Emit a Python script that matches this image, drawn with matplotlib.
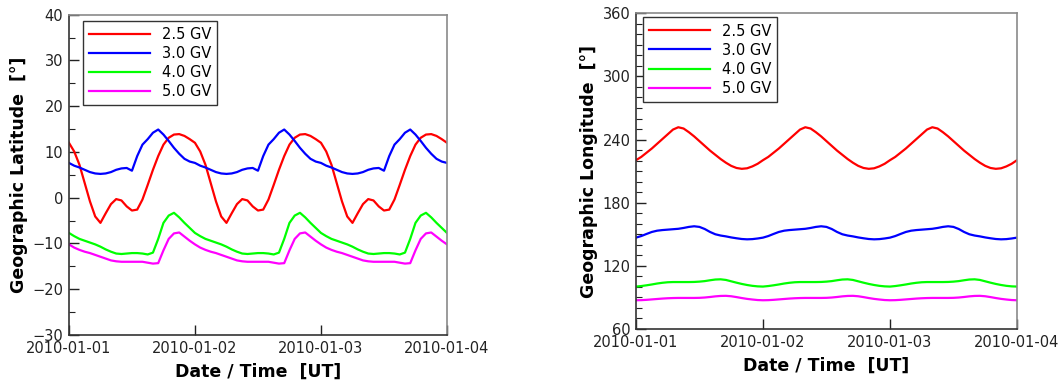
import numpy as np
import matplotlib
matplotlib.use("Agg")
import matplotlib.pyplot as plt
import matplotlib.dates as mdates
from matplotlib.ticker import MultipleLocator

# hourly cutoff-point track over one day (00..23 UT), repeats every day
hours = np.arange(24)
days = ['2010-01-01', '2010-01-02', '2010-01-03']
rigidities = ['2.5 GV', '3.0 GV', '4.0 GV', '5.0 GV']

lat_25 = [12.0, 10.1, 7.2, 3.2, -0.8, -4.1, -5.5, -3.4, -1.4, -0.3, -0.6, -1.9,
          -2.8, -2.6, -0.4, 2.8, 6.1, 9.1, 11.6, 13.1, 13.8, 13.9, 13.5, 12.8]
lat_30 = [7.6, 7.0, 6.6, 6.1, 5.6, 5.3, 5.2, 5.3, 5.6, 6.1, 6.4, 6.5,
          5.9, 9.1, 11.6, 12.8, 14.2, 14.9, 13.8, 12.4, 10.9, 9.6, 8.5, 7.9]
lat_40 = [-7.7, -8.4, -9.0, -9.4, -9.8, -10.2, -10.7, -11.3, -11.8, -12.2, -12.3, -12.2,
          -12.1, -12.1, -12.2, -12.4, -12.0, -9.0, -5.5, -3.9, -3.3, -4.3, -5.5, -6.6]
lat_50 = [-10.2, -10.9, -11.4, -11.8, -12.1, -12.5, -12.9, -13.3, -13.7, -13.9, -14.0, -14.0,
          -14.0, -14.0, -14.0, -14.2, -14.4, -14.3, -11.5, -9.0, -7.8, -7.6, -8.5, -9.4]

lon_25 = [220.4, 223.5, 227.5, 231.5, 236.0, 240.5, 245.0, 249.5, 251.7, 250.5, 247.0, 243.0,
          238.5, 234.0, 229.5, 225.5, 221.5, 218.0, 215.0, 213.0, 212.2, 212.7, 214.5, 217.0]
lon_30 = [146.8, 148.3, 150.3, 152.2, 153.4, 154.0, 154.4, 154.8, 155.2, 156.0, 157.0, 157.6,
          157.0, 155.0, 152.2, 150.0, 148.8, 148.0, 147.0, 146.2, 145.5, 145.2, 145.4, 146.0]
lon_40 = [100.3, 100.8, 101.5, 102.3, 103.2, 103.9, 104.4, 104.6, 104.6, 104.6, 104.6, 104.7,
          105.0, 105.5, 106.3, 107.0, 107.2, 106.6, 105.3, 104.0, 102.8, 101.8, 101.0, 100.5]
lon_50 = [87.3, 87.4, 87.7, 88.1, 88.5, 88.9, 89.2, 89.4, 89.5, 89.5, 89.5, 89.5,
          89.6, 89.9, 90.4, 91.0, 91.4, 91.5, 91.1, 90.3, 89.4, 88.6, 88.0, 87.5]

colors = ['#ff0000', '#0000ff', '#00ff00', '#ff00ff']


def three_days(profile):
    """Repeat a 24-h profile over the plotted days and close on the last midnight."""
    p = np.asarray(profile)
    return np.append(np.tile(p, len(days)), p[0])


t0 = np.datetime64(days[0] + 'T00:00')
times = t0 + np.arange(24 * len(days) + 1).astype('timedelta64[h]')
tend = times[-1]

plt.rcParams['font.family'] = 'DejaVu Sans'
fig = plt.figure(figsize=(10.64, 3.85), dpi=100)
ax1 = fig.add_axes([0.0648, 0.1299, 0.3553, 0.8320])
ax2 = fig.add_axes([0.5977, 0.1455, 0.3581, 0.8200])


def decorate(ax, ylabel, ylim, major, minor, legend_anchor):
    ax.set_xlim(times[0], tend)
    ax.set_ylim(*ylim)
    ax.xaxis.set_major_locator(mdates.DayLocator())
    ax.xaxis.set_major_formatter(mdates.DateFormatter('%Y-%m-%d'))
    ax.yaxis.set_major_locator(MultipleLocator(major))
    ax.yaxis.set_minor_locator(MultipleLocator(minor))
    ax.tick_params(which='both', direction='in', top=False, right=False,
                   labelsize=10.5, colors='#222222')
    ax.tick_params(which='major', length=7, width=1, pad=4)
    ax.tick_params(which='minor', length=4, width=0.8)
    ax.tick_params(axis='x', which='minor', length=0)
    for side in ['top', 'right']:
        ax.spines[side].set_color('#8a8a8a')
        ax.spines[side].set_linewidth(1.2)
    for side in ['left', 'bottom']:
        ax.spines[side].set_color('#333333')
        ax.spines[side].set_linewidth(1.2)
    ax.set_xlabel('Date / Time  [UT]', fontsize=12.5, fontweight='bold', labelpad=5)
    ax.set_ylabel(ylabel, fontsize=12.5, fontweight='bold', labelpad=3)
    leg = ax.legend(loc='upper left', bbox_to_anchor=legend_anchor, borderaxespad=0,
                    fontsize=10.5, handlelength=4.2, handletextpad=0.8,
                    labelspacing=0.28, borderpad=0.42, fancybox=False, framealpha=1)
    leg.get_frame().set_edgecolor('#333333')
    leg.get_frame().set_linewidth(1.0)


for vals, c, lab in zip([lat_25, lat_30, lat_40, lat_50], colors, rigidities):
    ax1.plot(times, three_days(vals), color=c, lw=1.6, label=lab)
decorate(ax1, 'Geographic Latitude  [°]', (-30, 40), 10, 5, (0.036, 0.981))

for vals, c, lab in zip([lon_25, lon_30, lon_40, lon_50], colors, rigidities):
    ax2.plot(times, three_days(vals), color=c, lw=1.6, label=lab)
decorate(ax2, 'Geographic Longitude  [°]', (60, 360), 60, 10, (0.0176, 0.987))

fig.savefig('out.png', dpi=100)
